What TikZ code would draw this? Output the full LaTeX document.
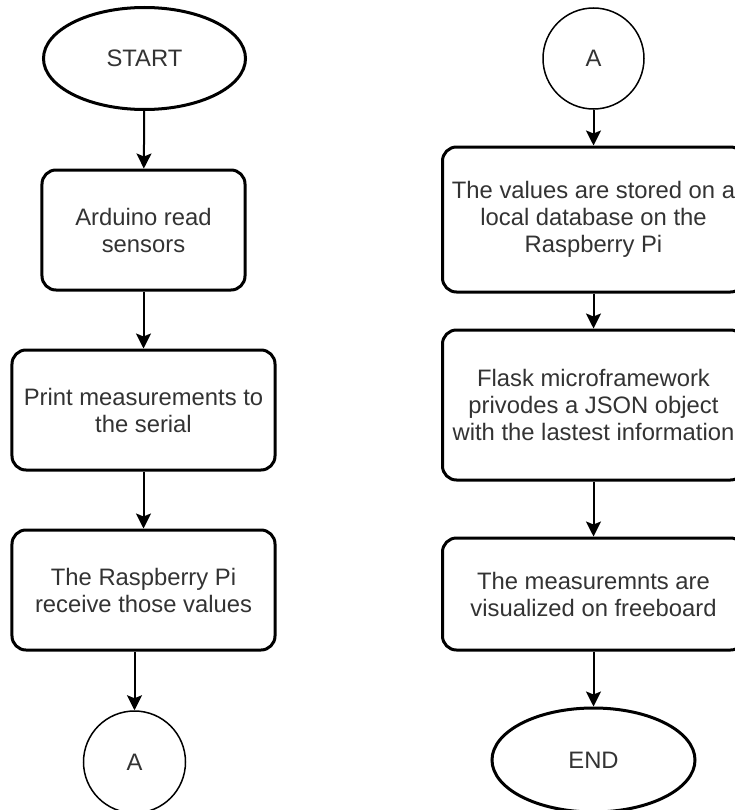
\documentclass[tikz,border=0pt]{standalone}
\usepackage{fontspec}
\setmainfont{Liberation Sans}
\usetikzlibrary{shapes.geometric,arrows.meta}
\definecolor{txt}{HTML}{333333}
\begin{document}
\begin{tikzpicture}[x=1bp,y=-1bp,
  every node/.style={font=\fontsize{23.8bp}{27bp}\selectfont, text=txt, align=center, inner sep=0pt},
  procbox/.style={draw=black, line width=3bp, rounded corners=14bp, rectangle},
  termin/.style={draw=black, line width=3bp, ellipse},
  conn/.style={draw=black, line width=1.5bp, circle},
  flow/.style={draw=black, line width=2bp, -{Stealth[length=15bp,width=15bp,inset=3bp]}}]
\useasboundingbox (0,0) rectangle (735,810);
\fill[white] (0,0) rectangle (735,810);
% left column
\node[termin, minimum width=202bp, minimum height=102bp] (start) at (144.5,58.5) {START};
\node[procbox, minimum width=203bp, minimum height=120bp] (b1) at (143.5,230) {Arduino read\\sensors};
\node[procbox, minimum width=263bp, minimum height=120bp] (b2) at (143.5,410) {Print measurements to\\the serial};
\node[procbox, minimum width=263bp, minimum height=120bp] (b3) at (143.5,590) {The Raspberry Pi\\receive those values};
\node[conn, minimum size=102bp] (aL) at (134.5,762) {A};
% right column
\node[conn, minimum size=101bp] (aR) at (593.5,58.5) {A};
\node[procbox, minimum width=302bp, minimum height=145bp] (r1) at (593.5,219.5) {The values are stored on a\\local database on the\\Raspberry Pi};
\node[procbox, minimum width=302bp, minimum height=150bp] (r2) at (593.5,405) {Flask microframework\\privodes a JSON object\\with the lastest information};
\node[procbox, minimum width=302bp, minimum height=112bp] (r3) at (593.5,594) {The measuremnts are\\visualized on freeboard};
\node[termin, minimum width=203bp, minimum height=104bp] (end) at (593.5,760) {END};
% connectors
\draw[flow] (start) -- (b1);
\draw[flow] (b1) -- (b2);
\draw[flow] (b2) -- (b3);
\draw[flow] (aL.north |- b3.south) -- (aL);
\draw[flow] (aR) -- (r1);
\draw[flow] (r1) -- (r2);
\draw[flow] (r2) -- (r3);
\draw[flow] (r3) -- (end);
\end{tikzpicture}
\end{document}
